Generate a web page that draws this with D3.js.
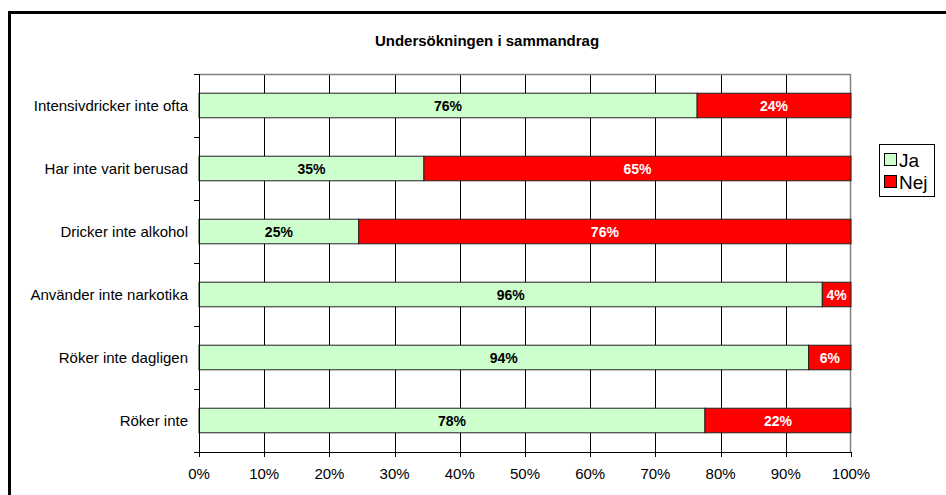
<!DOCTYPE html>
<html>
<head>
<meta charset="utf-8">
<script src="https://d3js.org/d3.v7.min.js"></script>
<style>
body { margin: 0; background: #fff; }
svg { font-family: Arial, "Liberation Sans", sans-serif; }
</style>
</head>
<body>
<div id="chart"></div>
<script>
var categories = ["Intensivdricker inte ofta", "Har inte varit berusad", "Dricker inte alkohol",
                  "Använder inte narkotika", "Röker inte dagligen", "Röker inte"];
var ja  = [76.4, 34.5, 24.5, 95.6, 93.5, 77.6];
var nej = [23.6, 65.5, 75.5, 4.4, 6.5, 22.4];
var jaLabels  = ["76%", "35%", "25%", "96%", "94%", "78%"];
var nejLabels = ["24%", "65%", "76%", "4%", "6%", "22%"];
var xTicks = [0, 10, 20, 30, 40, 50, 60, 70, 80, 90, 100];
var seriesNames = ["Ja", "Nej"];
var colors = ["#ccffcc", "#ff0000"];

var W = 946, H = 495;
var margin = {top: 74, left: 199, right: 95, bottom: 43};
var pw = W - margin.left - margin.right, ph = H - margin.top - margin.bottom;

var svg = d3.select("#chart").append("svg").attr("width", W).attr("height", H);

// outer frame
svg.append("rect").attr("x", 9.5).attr("y", 12.5).attr("width", 960).attr("height", 520)
  .attr("fill", "none").attr("stroke", "#000").attr("stroke-width", 3);

svg.append("text").attr("x", 487).attr("y", 46).attr("text-anchor", "middle")
  .style("font-size", "15px").style("font-weight", "bold").text("Undersökningen i sammandrag");

var g = svg.append("g").attr("transform", "translate(" + margin.left + "," + margin.top + ")");

var x = d3.scaleLinear().domain([0, 100]).range([0, pw]);
var y = d3.scaleBand().domain(categories).range([0, ph]).paddingInner(0.61).paddingOuter(0.305);

// gridlines
g.selectAll(".grid").data(xTicks.slice(1, -1)).enter().append("line")
  .attr("x1", function(d) { return Math.round(x(d)) + 0.5; })
  .attr("x2", function(d) { return Math.round(x(d)) + 0.5; })
  .attr("y1", 0).attr("y2", ph).attr("stroke", "#000").attr("stroke-width", 1);

// plot border top/right
g.append("path").attr("d", "M0,0.5H" + (pw - 0.5) + "V" + ph)
  .attr("fill", "none").attr("stroke", "#808080").attr("stroke-width", 1.5);

var rows = categories.map(function(c, i) {
  return {cat: c, vals: [ja[i], nej[i]], labels: [jaLabels[i], nejLabels[i]]};
});

rows.forEach(function(r) {
  var x0 = 0;
  r.vals.forEach(function(v, k) {
    g.append("rect").attr("x", x(x0)).attr("y", y(r.cat))
      .attr("width", x(x0 + v) - x(x0)).attr("height", y.bandwidth())
      .attr("fill", colors[k]).attr("stroke", "#222").attr("stroke-width", 1);
    g.append("text").attr("x", x(x0 + v / 2)).attr("y", y(r.cat) + y.bandwidth() / 2 + 5)
      .attr("text-anchor", "middle").style("font-size", "14px").style("font-weight", "bold")
      .attr("fill", k === 0 ? "#000" : "#fff").text(r.labels[k]);
    x0 += v;
  });
});

// y axis
var step = ph / categories.length;
var yAxis = g.append("g");
yAxis.append("line").attr("x1", 0.5).attr("x2", 0.5).attr("y1", 0).attr("y2", ph).attr("stroke", "#000");
d3.range(categories.length + 1).forEach(function(i) {
  yAxis.append("line").attr("x1", -5).attr("x2", 0).attr("y1", Math.round(i * step) + 0.5)
    .attr("y2", Math.round(i * step) + 0.5).attr("stroke", "#000");
});
yAxis.selectAll("text").data(categories).enter().append("text")
  .attr("x", -11).attr("y", function(d) { return y(d) + y.bandwidth() / 2 + 5; })
  .attr("text-anchor", "end").style("font-size", "15px").text(function(d) { return d; });

// x axis
var xAxis = g.append("g").attr("transform", "translate(0," + ph + ")");
xAxis.append("line").attr("x1", 0).attr("x2", pw).attr("y1", 0.5).attr("y2", 0.5).attr("stroke", "#000");
xAxis.selectAll(".tick").data(xTicks).enter().append("line")
  .attr("x1", function(d) { return Math.round(x(d)) + 0.5; })
  .attr("x2", function(d) { return Math.round(x(d)) + 0.5; })
  .attr("y1", 0).attr("y2", 5).attr("stroke", "#000");
xAxis.selectAll("text").data(xTicks).enter().append("text")
  .attr("x", function(d) { return x(d); }).attr("y", 27).attr("text-anchor", "middle")
  .style("font-size", "15px").text(function(d) { return d + "%"; });

// legend
var lg = svg.append("g").attr("transform", "translate(879,144)");
lg.append("rect").attr("x", 0.5).attr("y", 0.5).attr("width", 55).attr("height", 52)
  .attr("fill", "#fff").attr("stroke", "#000");
seriesNames.forEach(function(s, i) {
  lg.append("rect").attr("x", 5.5).attr("y", 9.5 + i * 22).attr("width", 12).attr("height", 12)
    .attr("fill", colors[i]).attr("stroke", "#000");
  lg.append("text").attr("x", 20).attr("y", 22.5 + i * 22).style("font-size", "19px").text(s);
});
</script>
</body>
</html>
